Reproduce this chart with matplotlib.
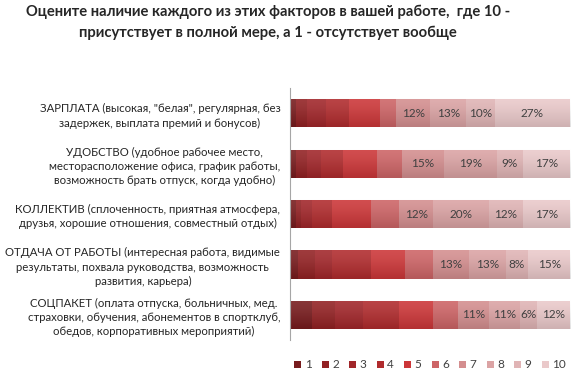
import numpy as np
import matplotlib.pyplot as plt
from matplotlib.patches import Patch

plt.rcParams['font.family'] = ['Lato', 'DejaVu Sans']

# data
categories = [
    'ЗАРПЛАТА (высокая, "белая", регулярная, без\nзадержек, выплата премий и бонусов)',
    'УДОБСТВО (удобное рабочее место,\nместорасположение офиса, график работы,\nвозможность брать отпуск, когда удобно)',
    'КОЛЛЕКТИВ (сплоченность, приятная атмосфера,\nдрузья, хорошие отношения, совместный отдых)',
    'ОТДАЧА ОТ РАБОТЫ (интересная работа, видимые\nрезультаты, похвала руководства, возможность\nразвития, карьера)',
    'СОЦПАКЕТ (оплата отпуска, больничных, мед.\nстраховки, обучения, абонементов в спортклуб,\nобедов, корпоративных мероприятий)',
]
scores = ['1', '2', '3', '4', '5', '6', '7', '8', '9', '10']
# percent of answers per score (rows = categories, cols = scores 1..10)
shares = np.array([
    [2, 4, 7, 8, 11, 6, 12, 13, 10, 27],
    [2, 4, 5, 8, 12, 9, 15, 19, 9, 17],
    [2, 2, 4, 7, 14, 10, 12, 20, 12, 17],
    [3, 6, 6, 14, 12, 10, 13, 13, 8, 15],
    [8, 8, 10, 13, 12, 9, 11, 11, 6, 12],
])
labeled_from = 6  # only scores 7..10 carry labels

colors = ['#771b1d', '#922123', '#a1262a', '#b02b2d', '#cc3638',
          '#cd6466', '#d48e8f', '#dba3a4', '#e0b4b5', '#eac9ca']

title = ('Оцените наличие каждого из этих факторов в вашей работе,  где 10 -\n'
         'присутствует в полной мере, а 1 - отсутствует вообще')

fig = plt.figure(figsize=(5.8, 3.72), dpi=100)
ax = fig.add_axes([0.5, 0.086, 0.483, 0.677])

y = np.arange(len(categories))
left = np.zeros(len(categories))
for j in range(len(scores)):
    bars = ax.barh(y, shares[:, j], left=left, height=0.56,
                   color=colors[j], edgecolor='none')
    if j >= labeled_from:
        for b, v in zip(bars, shares[:, j]):
            ax.text(b.get_x() + b.get_width() / 2, b.get_y() + b.get_height() / 2,
                    f'{v}%', ha='center', va='center', fontsize=8.5, color='#404040')
    left += shares[:, j]

# soft vertical shading over each bar, like the original gradient fill
shade = np.linspace(0, 1, 50).reshape(-1, 1)
for yi in y:
    ax.imshow(shade, extent=(0, left[yi], yi + 0.28, yi - 0.28), aspect='auto',
              cmap='Greys', alpha=0.12, vmin=0, vmax=1, zorder=1.5)

ax.set_xlim(0, 100)
ax.set_ylim(len(categories) - 0.5, -0.5)
ax.set_yticks(y)
ax.set_yticklabels(categories, fontsize=8.2, color='#262626', linespacing=1.35)
for lbl in ax.get_yticklabels():
    lbl.set_multialignment('center')
ax.tick_params(axis='y', length=0, pad=7)
ax.set_xticks([])
for s in ['top', 'right', 'bottom']:
    ax.spines[s].set_visible(False)
ax.spines['left'].set_color('#a6a6a6')

fig.text(0.462, 0.94, title, ha='center', va='center', fontsize=10.6,
         fontweight='bold', color='#262626', linespacing=1.65)

handles = [Patch(facecolor=c, edgecolor='none') for c in colors]
ax.legend(handles, scores, ncol=10, loc='upper center', bbox_to_anchor=(0.5, -0.035),
          frameon=False, fontsize=8.5, handlelength=0.6, handleheight=0.6,
          handletextpad=0.3, columnspacing=0.85, labelcolor='#404040')

fig.savefig('out.png', dpi=100)
